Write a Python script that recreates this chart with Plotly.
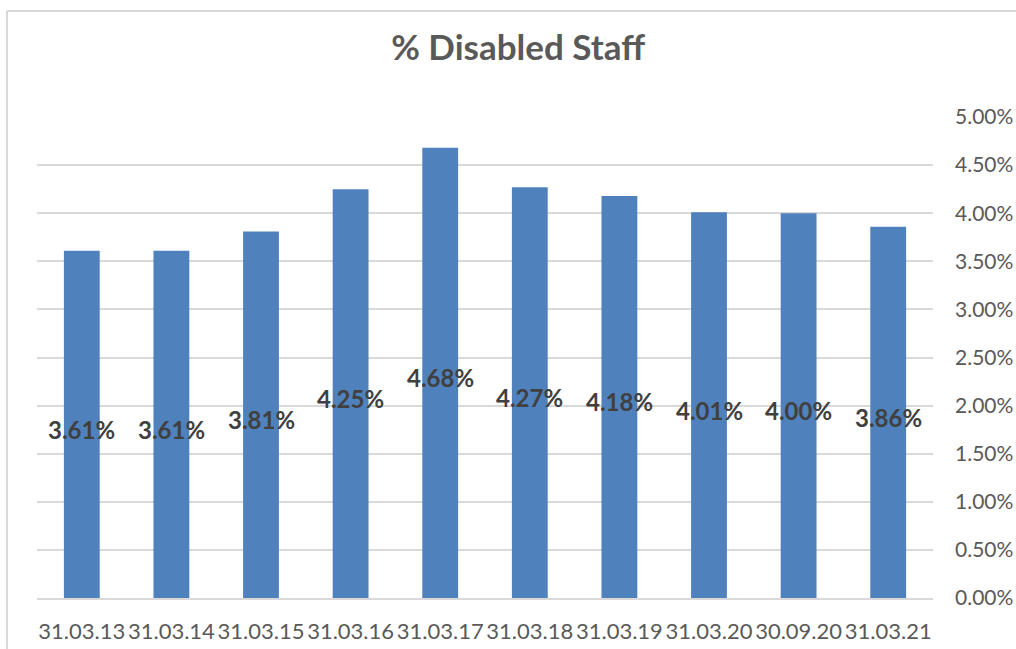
import plotly.graph_objects as go

# Reporting dates and share of staff declaring a disability
dates = ["31.03.13", "31.03.14", "31.03.15", "31.03.16", "31.03.17",
         "31.03.18", "31.03.19", "31.03.20", "30.09.20", "31.03.21"]
disabled_pct = [3.61, 3.61, 3.81, 4.25, 4.68, 4.27, 4.18, 4.01, 4.00, 3.86]
y_ticks = [0, 0.5, 1, 1.5, 2, 2.5, 3, 3.5, 4, 4.5, 5]
y_tick_labels = [f"{v:.2f}%" for v in y_ticks]

FONT = "Lato, Open Sans, sans-serif"
W, H = 1016, 649
L, R, T, B = 37, 83, 117, 51
pw, ph = W - L - R, H - T - B

fig = go.Figure()
fig.add_trace(go.Bar(
    x=dates, y=disabled_pct, width=0.4,
    marker=dict(color="#4F81BD", line=dict(width=0)),
    hoverinfo="x+y", showlegend=False,
))

# Value labels centred on each bar, nudged slightly below the midpoint
for d, v in zip(dates, disabled_pct):
    fig.add_annotation(
        x=d, y=v / 2, text=f"<b>{v:.2f}%</b>", showarrow=False,
        xanchor="center", yanchor="middle", yshift=-5,
        font=dict(family=FONT, size=24, color="#404040"),
    )

fig.update_layout(
    width=W, height=H,
    margin=dict(l=L, r=R, t=T, b=B),
    paper_bgcolor="white", plot_bgcolor="white",
    title=dict(text="<b>% Disabled Staff</b>", x=0.51, xanchor="center",
               y=1 - 48 / H, yanchor="middle",
               font=dict(family=FONT, size=35, color="#595959")),
    bargap=0.6,
    xaxis=dict(showgrid=False, showline=True, linecolor="#d9d9d9", linewidth=2,
               ticks="", tickfont=dict(family=FONT, size=22, color="#595959"),
               ticklabelstandoff=13, automargin=False, fixedrange=True),
    yaxis=dict(side="right", range=[0, 5], tickvals=y_ticks, ticktext=y_tick_labels,
               showgrid=True, gridcolor="#d9d9d9", gridwidth=1.5, zeroline=False,
               ticks="", tickfont=dict(family=FONT, size=21, color="#595959"),
               ticklabelstandoff=21, automargin=False, fixedrange=True),
    shapes=[
        # chart frame (left and top edges visible)
        dict(type="line", xref="paper", yref="paper",
             x0=(7 - L) / pw, x1=(7 - L) / pw, y0=-(H - T + 10) / ph, y1=1 + (T - 11) / ph,
             line=dict(color="#d9d9d9", width=2)),
        dict(type="line", xref="paper", yref="paper",
             x0=(7 - L) / pw, x1=(W + 10 - L) / pw, y0=1 + (T - 11) / ph, y1=1 + (T - 11) / ph,
             line=dict(color="#d9d9d9", width=2)),
    ],
)

fig.write_html("out.html")
